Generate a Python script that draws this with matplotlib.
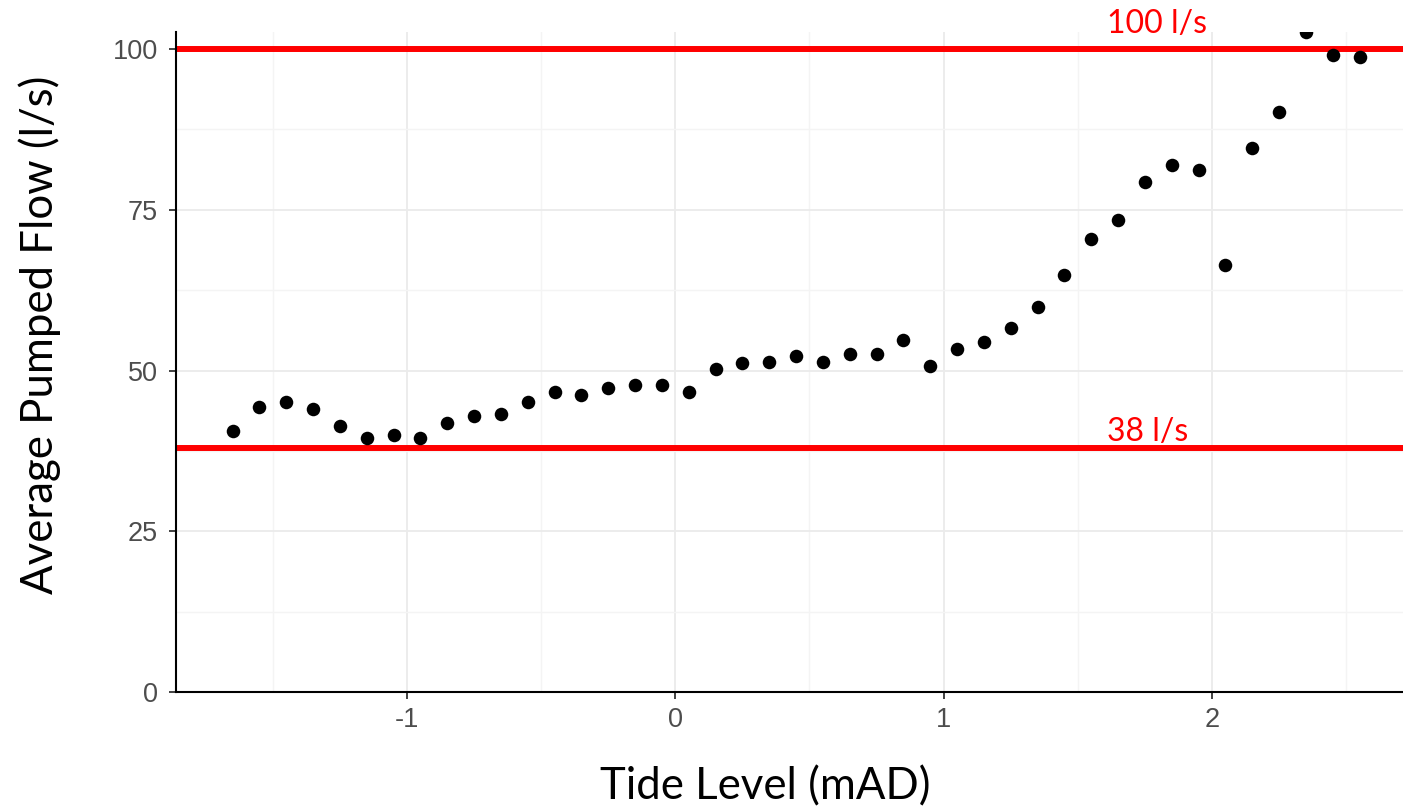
import matplotlib
matplotlib.use('Agg')
import matplotlib.pyplot as plt
from matplotlib.ticker import MultipleLocator

plt.rcParams['axes.unicode_minus'] = False

# binned tide level (mAD) and mean pumped flow (l/s)
tide_level = [-1.65, -1.55, -1.45, -1.35, -1.25, -1.15, -1.05, -0.95, -0.85, -0.75,
              -0.65, -0.55, -0.45, -0.35, -0.25, -0.15, -0.05, 0.05, 0.15, 0.25,
              0.35, 0.45, 0.55, 0.65, 0.75, 0.85, 0.95, 1.05, 1.15, 1.25,
              1.35, 1.45, 1.55, 1.65, 1.75, 1.85, 1.95, 2.05, 2.15, 2.25,
              2.35, 2.45, 2.55]
avg_flow = [40.6, 44.4, 45.1, 44.0, 41.4, 39.5, 39.9, 39.5, 41.8, 42.9,
            43.3, 45.1, 46.6, 46.2, 47.3, 47.7, 47.7, 46.6, 50.3, 51.1,
            51.4, 52.2, 51.4, 52.6, 52.6, 54.8, 50.7, 53.3, 54.4, 56.6,
            59.9, 64.9, 70.5, 73.4, 79.4, 82.0, 81.2, 66.4, 84.6, 90.2,
            102.6, 99.1, 98.7]

# pump capacity reference lines
limits = [100, 38]
limit_labels = ['100 l/s', '38 l/s']
label_y = [102.5, 39.05]

x_ticks = [-1, 0, 1, 2]
y_ticks = [0, 25, 50, 75, 100]

fig = plt.figure(figsize=(14.03, 8.09), dpi=100)
ax = fig.add_axes([0.1254, 0.1446, 0.8746, 0.8162])

ax.set_xlim(-1.861, 2.712)
ax.set_ylim(0, 102.7)

ax.set_xticks(x_ticks)
ax.set_yticks(y_ticks)
ax.xaxis.set_minor_locator(MultipleLocator(0.5))
ax.yaxis.set_minor_locator(MultipleLocator(12.5))
ax.grid(True, which='major', color='#ebebeb', linewidth=1.3)
ax.grid(True, which='minor', color='#f4f4f4', linewidth=1.0)
ax.set_axisbelow(True)

for s in ['top', 'right']:
    ax.spines[s].set_visible(False)
for s in ['left', 'bottom']:
    ax.spines[s].set_color('black')
    ax.spines[s].set_linewidth(1.5)

ax.tick_params(which='major', length=5, width=1.3, color='#333333',
               labelsize=19.5, labelcolor='#4d4d4d')
ax.tick_params(axis='x', which='major', pad=6)
ax.tick_params(axis='y', which='major', pad=8)
ax.tick_params(which='minor', length=0)
for lab in ax.get_xticklabels() + ax.get_yticklabels():
    lab.set_family('Liberation Sans')

for y, txt, ty in zip(limits, limit_labels, label_y):
    ax.axhline(y, color='#ff0000', linewidth=4.3, zorder=2)
    ax.text(1.609, ty, txt, color='#ff0000', fontsize=23, family='Lato',
            ha='left', va='baseline', zorder=4)

ax.scatter(tide_level, avg_flow, s=95, color='black', linewidths=0, zorder=3)

fig.text(765 / 1403, 1 - 787 / 809, 'Tide Level (mAD)', fontsize=31.5,
         family='Lato', ha='center', va='center')
fig.text(40 / 1403, 1 - 335 / 809, 'Average Pumped Flow (l/s)', fontsize=31.5,
         family='Lato', ha='center', va='center', rotation=90)

fig.savefig('out.png', dpi=100)
